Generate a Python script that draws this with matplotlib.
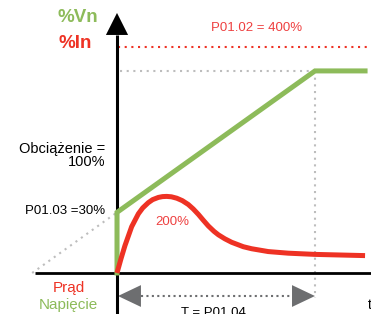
import matplotlib.pyplot as plt

plt.rcParams['font.family'] = ['Liberation Sans', 'DejaVu Sans']

# time in units of T (P01.04), level in schematic percent
t_volt = [0, 0, 1.0, 1.253]
v_volt = [0, 30, 100, 100]

t_curr = [0, 0.02, 0.04, 0.074, 0.108, 0.13, 0.158, 0.18, 0.209, 0.23, 0.251,
          0.275, 0.302, 0.33, 0.36, 0.385, 0.411, 0.436, 0.461, 0.49, 0.512,
          0.545, 0.579, 0.638, 0.68, 0.764, 0.865, 1.0, 1.253]
i_curr = [0, 7.0, 13.5, 22.9, 29.3, 32.2, 34.8, 36.3, 37.4, 37.8, 37.9,
          37.7, 37.0, 35.8, 33.9, 31.7, 29.0, 26.1, 23.3, 20.6, 18.9,
          16.9, 15.2, 13.0, 12.0, 10.6, 9.8, 9.2, 8.6]

limit_level = 112      # P01.02 = 400% line
start_level = 30       # P01.03 = 30%
full_level = 100
ramp_end = 1.0

green = '#8dbb5a'
red = '#ee3224'
red_txt = '#ee4040'
gray = '#bdbdbd'
arrow_gray = '#6d6e70'

fig = plt.figure(figsize=(3.71, 3.14), dpi=100)
ax = fig.add_axes([0, 0, 1, 1])
ax.set_xlim(-0.591, 1.283)
ax.set_ylim(-20.3, 135.1)
ax.axis('off')

# axes
ax.plot([-0.414, 1.3], [0, 0], color='black', lw=2.0, zorder=3, solid_capstyle='butt')
ax.plot([0, 0], [-21, 118], color='black', lw=2.2, zorder=3, solid_capstyle='butt')
ax.fill([-0.056, 0.056, 0], [117.8, 117.8, 128.7], color='black', zorder=3, lw=0)

# guides
slope = (full_level - start_level) / ramp_end
ax.plot([-start_level / slope, 0], [0, start_level], color=gray, lw=1.5,
        ls=(0, (1, 2.2)), zorder=1)
ax.plot([0.015, ramp_end], [full_level, full_level], color=gray, lw=1.5,
        ls=(0, (1, 2.2)), zorder=1)
ax.plot([ramp_end, ramp_end], [full_level, -12.4], color=gray, lw=1.5,
        ls=(0, (1, 2.2)), zorder=1)
ax.plot([0.005, 1.3], [limit_level, limit_level], color=red, lw=1.5,
        ls=(0, (1, 2.2)), zorder=1)

# curves
ax.plot(t_volt, v_volt, color=green, lw=3.6, solid_joinstyle='miter', zorder=4)
ax.plot(t_curr, i_curr, color=red, lw=3.6, solid_capstyle='butt',
        solid_joinstyle='round', zorder=5)

# time span arrow
ya = -11.4
ax.plot([0.12, 0.88], [ya, ya], color=arrow_gray, lw=1.5, ls=(0, (1, 1.6)))
ax.fill([0.005, 0.121, 0.121], [ya, ya + 5.4, ya - 5.4], color=arrow_gray, lw=0)
ax.fill([ramp_end, 0.884, 0.884], [ya, ya + 5.4, ya - 5.4], color=arrow_gray, lw=0)

# labels
ax.text(-0.197, 126.2, '%Vn', color=green, fontsize=13.5, fontweight='bold',
        ha='center', va='center')
ax.text(-0.212, 113.4, '%In', color=red, fontsize=13.5, fontweight='bold',
        ha='center', va='center')
ax.text(0.707, 121.0, 'P01.02 = 400%', color=red_txt, fontsize=9.5,
        ha='center', va='center')
ax.text(-0.061, 61.4, 'Obciążenie =', color='black', fontsize=10.5,
        ha='right', va='center')
ax.text(-0.061, 55.0, '100%', color='black', fontsize=10.5,
        ha='right', va='center')
ax.text(-0.061, 30.7, 'P01.03 =30%', color='black', fontsize=9.5,
        ha='right', va='center')
ax.text(0.278, 25.4, '200%', color=red_txt, fontsize=9.5,
        ha='center', va='center')
ax.text(-0.245, -7.4, 'Prąd', color=red, fontsize=11,
        ha='center', va='center')
ax.text(-0.247, -15.8, 'Napięcie', color=green, fontsize=11,
        ha='center', va='center')
ax.text(0.487, -21.3, 'T = P01.04', color='black', fontsize=9.5,
        ha='center', va='baseline')
ax.text(1.268, -17.8, 't', color='black', fontsize=10,
        ha='left', va='baseline')

fig.savefig('out.png', dpi=100)
